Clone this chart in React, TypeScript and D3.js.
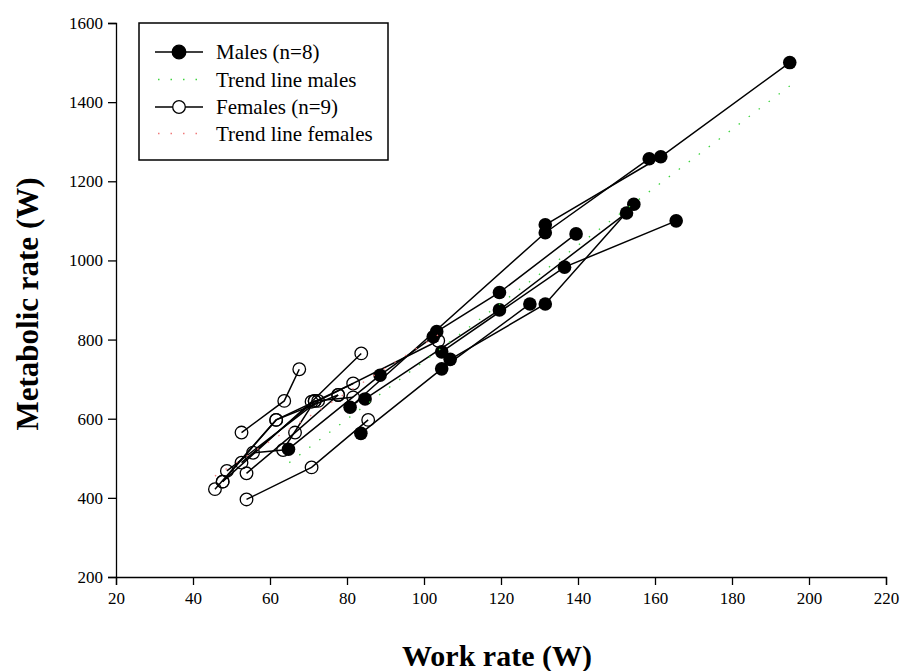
import React, { useEffect, useRef } from 'react';
import * as d3 from 'd3';

// work rate (W) and metabolic rate (W), one inner array per subject
const maleWork = [
  [131.5, 161.5, 195],
  [80.8, 131.5, 158.5],
  [103.3, 119.6, 139.5],
  [84.7, 119.6, 152.6],
  [106.8, 131.5, 154.5],
  [104.6, 136.5, 165.5],
  [83.6, 104.6, 127.5],
  [64.8, 88.6, 102.4],
];
const maleMetab = [
  [1090, 1262, 1500],
  [629, 1070, 1257],
  [820, 919, 1067],
  [650, 875, 1120],
  [750, 890, 1142],
  [769, 983, 1100],
  [563, 726, 890],
  [523, 710, 807],
];
const femaleWork = [
  [52.6, 63.7, 67.6],
  [53.9, 70.8, 85.5],
  [45.7, 61.6, 81.6],
  [47.7, 70.8, 83.7],
  [48.8, 72.5, 103.7],
  [52.6, 71.6, 81.6],
  [53.9, 66.5, 77.7],
  [55.6, 63.4, 71.6],
  [47.7, 61.6, 77.7],
];
const femaleMetab = [
  [565, 645, 725],
  [396, 477, 597],
  [422, 597, 689],
  [441, 643, 765],
  [468, 645, 797],
  [489, 645, 654],
  [462, 565, 660],
  [514, 521, 645],
  [441, 597, 660],
];
const maleTrendX = [65, 195];
const maleTrendY = [489, 1441];
const femaleTrendX = [45.7, 103.7];
const femaleTrendY = [455, 812];

const xTicks = [20, 40, 60, 80, 100, 120, 140, 160, 180, 200, 220];
const yTicks = [200, 400, 600, 800, 1000, 1200, 1400, 1600];
const legendLabels = ['Males (n=8)', 'Trend line males', 'Females (n=9)', 'Trend line females'];

const font = '"Liberation Serif", "Times New Roman", Times, serif';
const green = '#3fd43f';
const pink = '#f07a7a';

export default function App() {
  const ref = useRef<SVGSVGElement>(null);

  useEffect(() => {
    const svg = d3.select(ref.current);
    svg.selectAll('*').remove();

    const x = d3.scaleLinear().domain([20, 220]).range([116, 886]);
    const y = d3.scaleLinear().domain([200, 1600]).range([577, 23]);

    // axes
    const xAxis = svg.append('g').attr('transform', 'translate(0,577)')
      .call(d3.axisBottom(x).tickValues(xTicks).tickSize(8).tickPadding(7).tickFormat(d3.format('d')));
    const yAxis = svg.append('g').attr('transform', 'translate(116,0)')
      .call(d3.axisLeft(y).tickValues(yTicks).tickSize(8).tickPadding(5).tickFormat(d3.format('d')));
    ;[xAxis, yAxis].forEach(a => {
      a.style('font-family', font).style('font-size', '17px');
      a.select('.domain').attr('stroke', '#000').attr('stroke-width', 1.3);
      a.selectAll('.tick line').attr('stroke', '#000').attr('stroke-width', 1.3);
      a.selectAll('.tick text').style('font-family', font).style('font-size', '17px').attr('fill', '#000');
    });

    const line = d3.line<[number, number]>().x(d => x(d[0])).y(d => y(d[1]));
    const pairs = (wx: number[], my: number[]) => wx.map((v, i) => [v, my[i]] as [number, number]);

    // females
    const fg = svg.append('g');
    femaleWork.forEach((wx, i) => {
      const pts = pairs(wx, femaleMetab[i]);
      fg.append('path').attr('d', line(pts)).attr('fill', 'none').attr('stroke', '#000').attr('stroke-width', 1.5);
      fg.selectAll(null).data(pts).join('circle')
        .attr('cx', d => x(d[0])).attr('cy', d => y(d[1])).attr('r', 6.3)
        .attr('fill', 'none').attr('stroke', '#000').attr('stroke-width', 1.3);
    });

    // males
    const mg = svg.append('g');
    maleWork.forEach((wx, i) => {
      const pts = pairs(wx, maleMetab[i]);
      mg.append('path').attr('d', line(pts)).attr('fill', 'none').attr('stroke', '#000').attr('stroke-width', 1.5);
      mg.selectAll(null).data(pts).join('circle')
        .attr('cx', d => x(d[0])).attr('cy', d => y(d[1])).attr('r', 6.8)
        .attr('fill', '#000');
    });

    // trend lines
    svg.append('path').attr('d', line(pairs(maleTrendX, maleTrendY)))
      .attr('stroke', green).attr('stroke-width', 1.3).attr('stroke-dasharray', '1.5,11').attr('fill', 'none');
    svg.append('path').attr('d', line(pairs(femaleTrendX, femaleTrendY)))
      .attr('stroke', pink).attr('stroke-width', 1.3).attr('stroke-dasharray', '1.5,11').attr('fill', 'none');

    // legend
    const lg = svg.append('g');
    lg.append('rect').attr('x', 139).attr('y', 23).attr('width', 249).attr('height', 137)
      .attr('fill', '#fff').attr('stroke', '#000').attr('stroke-width', 1.5);
    const rows = [52, 79.5, 107, 133.5];
    legendLabels.forEach((t, i) => {
      const ry = rows[i];
      if (i % 2 === 0) {
        lg.append('line').attr('x1', 155).attr('x2', 203).attr('y1', ry).attr('y2', ry)
          .attr('stroke', '#000').attr('stroke-width', 1.5);
        lg.append('circle').attr('cx', 179).attr('cy', ry).attr('r', i === 0 ? 6.8 : 6.3)
          .attr('fill', i === 0 ? '#000' : '#fff').attr('stroke', '#000').attr('stroke-width', 1.3);
      } else {
        lg.append('line').attr('x1', 158).attr('x2', 203).attr('y1', ry).attr('y2', ry)
          .attr('stroke', i === 1 ? green : pink).attr('stroke-width', 1.3)
          .attr('stroke-dasharray', '1.5,11');
      }
      lg.append('text').attr('x', 216).attr('y', ry).attr('dy', '0.35em')
        .style('font-family', font).style('font-size', '21px').text(t);
    });

    // axis titles
    svg.append('text').attr('x', 497).attr('y', 666).attr('text-anchor', 'middle')
      .style('font-family', font).style('font-size', '30px').style('font-weight', 'bold').text('Work rate (W)');
    svg.append('text').attr('transform', 'translate(38,304) rotate(-90)').attr('text-anchor', 'middle')
      .style('font-family', font).style('font-size', '31px').style('font-weight', 'bold').text('Metabolic rate (W)');
  }, []);

  return (
    <svg ref={ref} width={902} height={671}
      style={{ position: 'absolute', left: 0, top: 0, background: '#fff' }} />
  );
}
